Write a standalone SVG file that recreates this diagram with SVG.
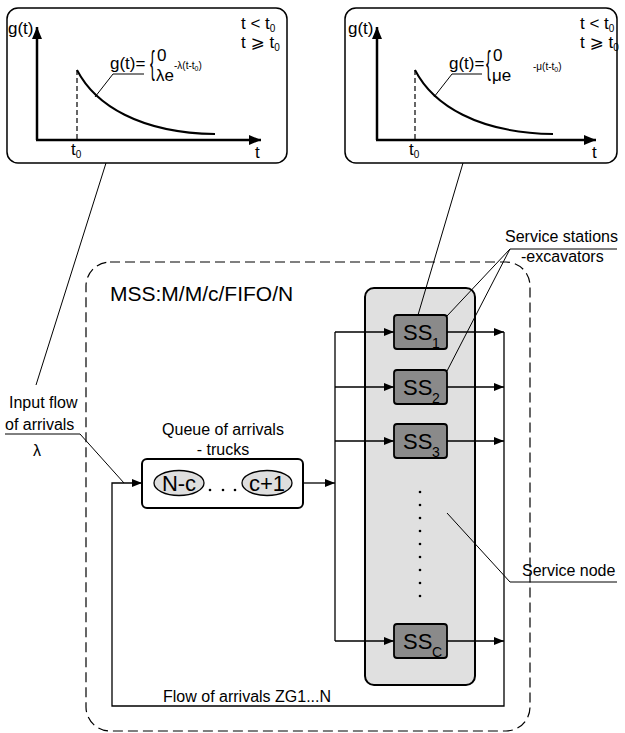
<svg xmlns="http://www.w3.org/2000/svg" width="625" height="733" viewBox="0 0 625 733">
<defs>
<marker id="ah" markerWidth="10" markerHeight="8" refX="10" refY="4" orient="auto" markerUnits="userSpaceOnUse"><path d="M0,0 L10,4 L0,8 Z" fill="#000"/></marker>
<marker id="ax" markerWidth="12" markerHeight="10" refX="12" refY="5" orient="auto" markerUnits="userSpaceOnUse"><path d="M0,0 L12,5 L0,10 Z" fill="#000"/></marker>
</defs>
<style>
text{font-family:"Liberation Sans",Arial,"DejaVu Sans",sans-serif;fill:#000}
.panel{fill:#fff;stroke:#000;stroke-width:1.5}
.axis{stroke:#000;stroke-width:2.5;fill:none}
.curve{stroke:#000;stroke-width:2;fill:none}
.dash{stroke:#000;stroke-width:1.2;stroke-dasharray:5,3;fill:none}
.thin{stroke:#000;stroke-width:1;fill:none}
.conn{stroke:#000;stroke-width:1.3;fill:none}
.ss{fill:#8a8a8a;stroke:#000;stroke-width:1.8}
.ssT{font-size:22px}
.sub{font-size:14px}
.lbl{font-size:16px}
.f17{font-size:17px}
.small{font-size:10px}
</style>

<g id="pdf-arrivals">
<rect class="panel" x="7" y="8" width="280" height="155" rx="11"/>
<path class="axis" d="M37,140 V27" marker-end="url(#ax)"/>
<path class="axis" d="M36,140 H261" marker-end="url(#ax)"/>
<path class="dash" d="M77,70 V140"/>
<path class="curve" d="M77,70 C95,105 140,133 215,134"/>
<text class="f17" x="8" y="34">g(t)</text>
<text class="f17" x="255" y="158">t</text>
<text class="f17" x="71" y="155">t<tspan class="small" dy="3">0</tspan></text>
<path class="thin" d="M144,74 H113 L95,97"/>
<text class="f17" x="110" y="69">g(t)=</text>
<text x="262" y="74" font-size="34" transform="translate(150,0) scale(0.42,1) translate(-262,0)">{</text>
<text class="f17" x="157" y="61">0</text>
<text class="f17" x="156" y="81">λe</text>
<text class="small" x="174" y="69">-λ(t-t<tspan font-size="7" dy="2">0</tspan><tspan dy="-2">)</tspan></text>
<text class="f17" x="241" y="29">t &lt; t<tspan class="small" dy="3">0</tspan></text>
<text class="f17" x="241" y="48">t ⩾ t<tspan class="small" dy="3">0</tspan></text>
</g>

<g id="pdf-service">
<rect class="panel" x="345" y="8" width="272" height="155" rx="11"/>
<path class="axis" d="M377,140 V27" marker-end="url(#ax)"/>
<path class="axis" d="M376,140 H596" marker-end="url(#ax)"/>
<path class="dash" d="M415,70 V140"/>
<path class="curve" d="M415,70 C433,105 478,133 553,134"/>
<text class="f17" x="348" y="34">g(t)</text>
<text class="f17" x="592" y="158">t</text>
<text class="f17" x="409" y="155">t<tspan class="small" dy="3">0</tspan></text>
<path class="thin" d="M482,74 H452 L434,97"/>
<text class="f17" x="449" y="69">g(t)=</text>
<text x="602" y="74" font-size="34" transform="translate(486,0) scale(0.42,1) translate(-602,0)">{</text>
<text class="f17" x="493" y="61">0</text>
<text class="f17" x="492" y="81">μe</text>
<text class="small" x="533" y="70">-μ(t-t<tspan font-size="7" dy="2">0</tspan><tspan dy="-2">)</tspan></text>
<text class="f17" x="580" y="29">t &lt; t<tspan class="small" dy="3">0</tspan></text>
<text class="f17" x="580" y="48">t ⩾ t<tspan class="small" dy="3">0</tspan></text>
</g>

<g id="system">
<rect x="86" y="262" width="444" height="469" rx="24" fill="none" stroke="#000" stroke-width="1.2" stroke-dasharray="10,5"/>
<text x="110" y="301" font-size="21">MSS:M/M/c/FIFO/N</text>
</g>

<g id="input-label">
<text class="lbl" x="9" y="408">Input flow</text>
<text class="lbl" x="5" y="430">of arrivals</text>
<text class="lbl" x="33" y="456">λ</text>
</g>

<g id="queue">
<text class="lbl" x="223" y="435" text-anchor="middle">Queue of arrivals</text>
<text class="lbl" x="223" y="455" text-anchor="middle">- trucks</text>
<rect x="142" y="459" width="161" height="49" rx="5" fill="#fff" stroke="#000" stroke-width="2"/>
<ellipse cx="179" cy="483" rx="25" ry="12.5" fill="#dedede" stroke="#000" stroke-width="1.3"/>
<text x="179" y="491" font-size="22" text-anchor="middle">N-c</text>
<circle cx="210" cy="490" r="1.3"/><circle cx="223" cy="490" r="1.3"/><circle cx="235" cy="490" r="1.3"/>
<ellipse cx="267" cy="483" rx="25" ry="12.5" fill="#dedede" stroke="#000" stroke-width="1.3"/>
<text x="267" y="491" font-size="22" text-anchor="middle">c+1</text>
</g>

<g id="service-node">
<rect x="365" y="288" width="110" height="397" rx="9" fill="#e0e0e0" stroke="#000" stroke-width="2"/>
<circle cx="420" cy="492" r="1.3"/><circle cx="420" cy="505" r="1.3"/><circle cx="420" cy="518" r="1.3"/>
<circle cx="420" cy="531" r="1.3"/><circle cx="420" cy="544" r="1.3"/><circle cx="420" cy="557" r="1.3"/>
<circle cx="420" cy="570" r="1.3"/><circle cx="420" cy="583" r="1.3"/><circle cx="420" cy="596" r="1.3"/>
</g>

<g id="ss1">
<rect class="ss" x="394" y="315" width="53" height="34" rx="3"/>
<text class="ssT" x="403" y="340">SS</text><text class="sub" x="432" y="348">1</text>
</g>
<g id="ss2">
<rect class="ss" x="394" y="370" width="53" height="34" rx="3"/>
<text class="ssT" x="403" y="395">SS</text><text class="sub" x="432" y="403">2</text>
</g>
<g id="ss3">
<rect class="ss" x="394" y="424" width="53" height="34" rx="3"/>
<text class="ssT" x="403" y="449">SS</text><text class="sub" x="432" y="457">3</text>
</g>
<g id="ssc">
<rect class="ss" x="394" y="624" width="53" height="34" rx="3"/>
<text class="ssT" x="403" y="649">SS</text><text class="sub" x="432" y="657">C</text>
</g>

<g id="labels">
<text class="lbl" x="505" y="242">Service stations</text>
<text class="lbl" x="521" y="262">-excavators</text>
<text class="lbl" x="522" y="576">Service node</text>
<text class="lbl" x="163" y="702">Flow of arrivals ZG1...N</text>
</g>

<g id="connectors">
<path class="conn" d="M303,483 H335" marker-end="url(#ah)"/>
<path class="conn" d="M335,332 V641"/>
<path class="conn" d="M335,332 H394" marker-end="url(#ah)"/>
<path class="conn" d="M335,387 H394" marker-end="url(#ah)"/>
<path class="conn" d="M335,441 H394" marker-end="url(#ah)"/>
<path class="conn" d="M335,641 H394" marker-end="url(#ah)"/>
<path class="conn" d="M447,332 H504" marker-end="url(#ah)"/>
<path class="conn" d="M447,387 H504" marker-end="url(#ah)"/>
<path class="conn" d="M447,441 H504" marker-end="url(#ah)"/>
<path class="conn" d="M447,641 H504" marker-end="url(#ah)"/>
<path class="conn" d="M504,332 V706 H112 V483 H142" marker-end="url(#ah)"/>
<path class="thin" d="M106,163 L36,385"/>
<path class="thin" d="M463,163 L418,315"/>
<path class="thin" d="M5,434 H80 L124,483"/>
<path class="thin" d="M617,249 H510 L447,316 M510,249 L447,371"/>
<path class="thin" d="M617,582 H510 L447,513"/>
</g>
</svg>
